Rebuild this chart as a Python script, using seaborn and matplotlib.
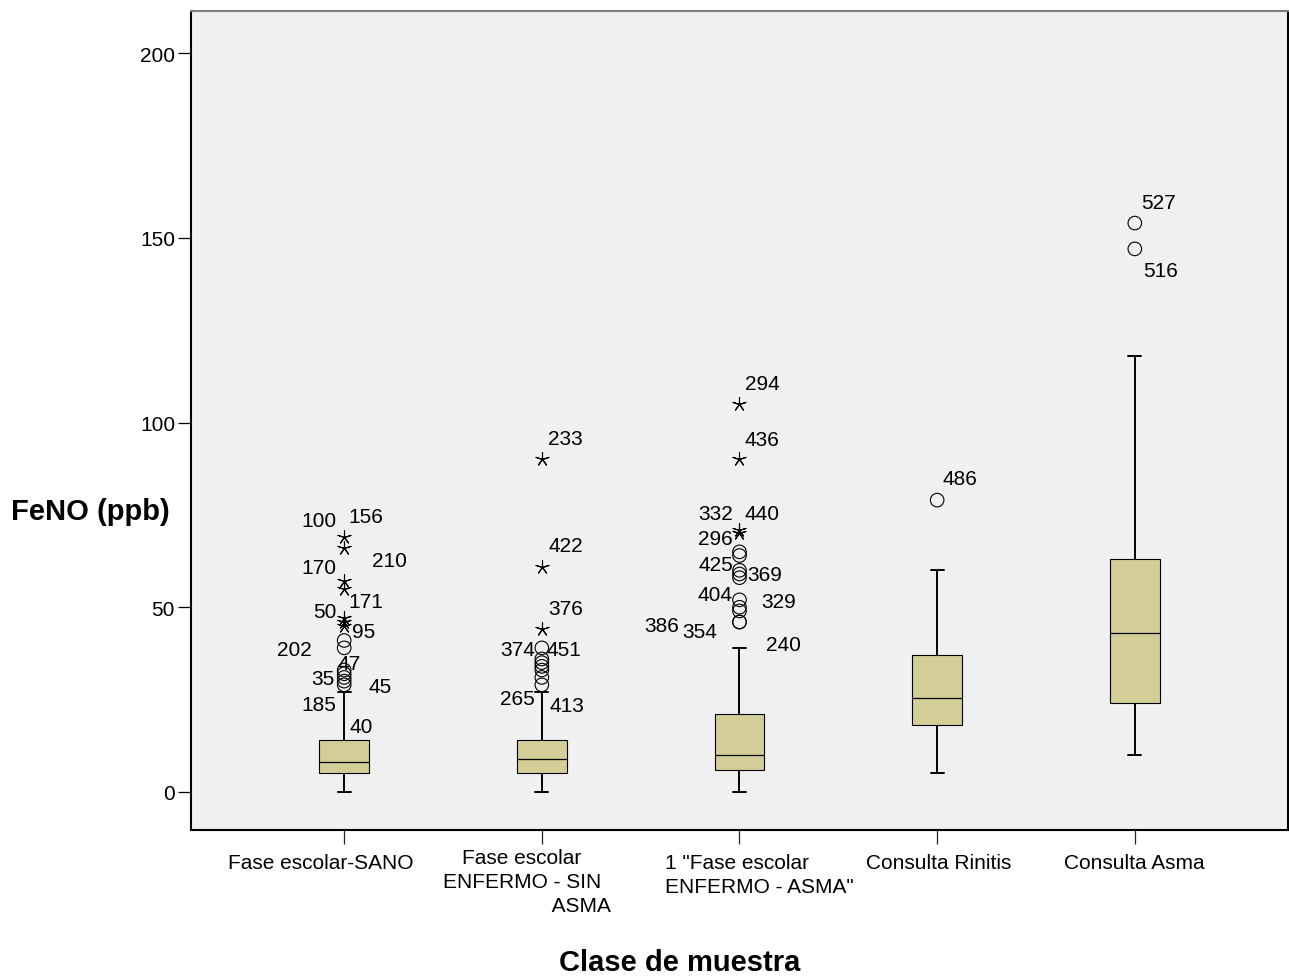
import matplotlib
matplotlib.use("Agg")
import matplotlib.pyplot as plt
import numpy as np
import pandas as pd
import seaborn as sns

# clases de muestra (orden del eje x)
categorias = ["Fase escolar-SANO", "Fase escolar ENFERMO - SIN ASMA",
              '1 "Fase escolar ENFERMO - ASMA"', "Consulta Rinitis", "Consulta Asma"]
etiquetas_x = ["Fase escolar-SANO",
               "Fase escolar\nENFERMO - SIN\n                     ASMA",
               '1 "Fase escolar\nENFERMO - ASMA"',
               "Consulta Rinitis",
               "Consulta Asma"]

# resumen de cinco numeros (FeNO, ppb)
bigote_inf = [0, 0, 0, 5, 10]
cuartil_1 = [5, 5, 6, 18, 24]
mediana = [8, 9, 10, 25.5, 43]
cuartil_3 = [14, 14, 21, 37, 63]
bigote_sup = [27, 27, 39, 60, 118]

# valores atipicos (circulos) y extremos (asteriscos) por clase
atipicos = [
    [41, 39, 33, 32, 31, 30, 29],
    [39, 36, 35, 34, 33, 31, 29],
    [65, 64, 60, 59, 58, 52, 50, 49, 46, 46],
    [79],
    [154, 147],
]
extremos = [
    [69, 66, 57, 55, 47, 46, 45],
    [90, 61, 44],
    [105, 90, 71, 70],
    [],
    [],
]

# numeros de caso rotulados: (clase, texto, altura en ppb)
casos_clase = [0, 0, 0, 0, 0, 0, 0, 0, 0, 0, 0, 0, 0,
               1, 1, 1, 1, 1, 1, 1,
               2, 2, 2, 2, 2, 2, 2, 2, 2, 2, 2, 2,
               3, 4, 4]
casos_texto = ["100", "156", "210", "170", "171", "50", "95", "202", "47", "35", "45", "185", "40",
               "233", "422", "376", "374", "451", "265", "413",
               "294", "436", "332", "440", "296", "425", "369", "404", "329", "386", "354", "240",
               "486", "527", "516"]
casos_altura = [74.0, 75.1, 63.1, 61.2, 52.2, 49.3, 44.1, 39.2, 35.3, 31.3, 29.0, 24.1, 18.2,
                96.2, 67.3, 50.1, 39.2, 39.2, 25.8, 23.9,
                111.1, 96.0, 76.0, 76.0, 69.1, 62.2, 59.5, 53.9, 52.2, 45.7, 44.0, 40.4,
                85.4, 160.2, 141.8]
# desplazamiento horizontal de cada rotulo respecto de su caja (pixeles)
casos_dx = [-25, 21.5, 45, -25, 21.5, -19, 19, -49.5, 5, -21, 36, -25, 17.5,
            23.5, 23.5, 23.5, -24, 22, -24.3, 25,
            22.5, 22.5, -24, 22.5, -24, -24, 25, -24, 39.5, -78, -40, 43.5,
            23, 23.5, 25.5]

caja_color = "#D3CE98"
fondo = "#F0F0F0"

sns.set_theme(style="white")
plt.rcParams["font.family"] = ["Liberation Sans", "DejaVu Sans"]
plt.rcParams["text.color"] = "black"

fig = plt.figure(figsize=(12.89, 9.79), dpi=100)
ax = fig.add_axes([191 / 1289, 1 - 831 / 979, (1288 - 191) / 1289, (831 - 12) / 979])
ax.set_facecolor(fondo)

# tabla larga con los cinco valores de cada caja
filas = []
for i, cat in enumerate(categorias):
    for v in (bigote_inf[i], cuartil_1[i], mediana[i], cuartil_3[i], bigote_sup[i]):
        filas.append({"clase": cat, "FeNO": v})
df_cajas = pd.DataFrame(filas)

sns.boxplot(data=df_cajas, x="clase", y="FeNO", order=categorias, whis=(0, 100),
            width=0.25, color=caja_color, saturation=1, linecolor="black",
            linewidth=0.8, showfliers=False, capwidths=0.066, ax=ax,
            whiskerprops=dict(linewidth=1.4), capprops=dict(linewidth=1.4),
            medianprops=dict(linewidth=0.9))

df_atip = pd.DataFrame([{"pos": i, "FeNO": v} for i, vals in enumerate(atipicos) for v in vals])
df_ext = pd.DataFrame([{"pos": i, "FeNO": v} for i, vals in enumerate(extremos) for v in vals])

sns.scatterplot(data=df_atip, x="pos", y="FeNO", marker="o", s=95,
                facecolor="none", edgecolor="black", linewidth=0.8, ax=ax, zorder=4)
sns.scatterplot(data=df_ext, x="pos", y="FeNO", marker=(5, 2, 0), s=95,
                color="black", linewidth=0.8, ax=ax, zorder=4)

for c, t, h, dx in zip(casos_clase, casos_texto, casos_altura, casos_dx):
    ax.annotate(t, xy=(c, h), xytext=(dx, 0), textcoords="offset pixels",
                ha="center", va="center_baseline", fontsize=15, color="black")

ax.set_xlim(-0.775, 4.775)
ax.set_ylim(-10.3, 211.4)
ax.set_yticks([0, 50, 100, 150, 200])
ax.set_xticks(range(len(categorias)))
ax.set_xticklabels([])
ax.tick_params(axis="y", direction="out", length=9.5, width=0.9, pad=2,
               labelsize=15, colors="black", left=True)
ax.tick_params(axis="x", direction="out", length=10, width=0.9, bottom=True)
ax.set_xlabel("")
ax.set_ylabel("")

# rotulos de las clases bajo el eje
ajuste = [(-23.5, -23, "center"), (-20, -18, "center"), (-74, -23, "left"),
          (2, -23, "center"), (-0.5, -23, "center")]
for i, txt in enumerate(etiquetas_x):
    dx, dy, ha = ajuste[i]
    ax.annotate(txt, xy=(i, 0), xycoords=("data", "axes fraction"), xytext=(dx, dy),
                textcoords="offset pixels", ha=ha, va="top", ma=ha,
                fontsize=15, color="black", linespacing=1.34)

for lado in ["left", "bottom", "right"]:
    ax.spines[lado].set_color("black")
    ax.spines[lado].set_linewidth(1.5)
ax.spines["top"].set_color("#7F7F7F")
ax.spines["top"].set_linewidth(1.5)

fig.text(90 / 1289, 1 - 512 / 979, "FeNO (ppb)", fontsize=21, fontweight="bold",
         ha="center", va="center", color="black")
fig.text(680 / 1289, 1 - 963 / 979, "Clase de muestra", fontsize=21, fontweight="bold",
         ha="center", va="center", color="black")

fig.savefig("out.png", dpi=100, facecolor="white")
